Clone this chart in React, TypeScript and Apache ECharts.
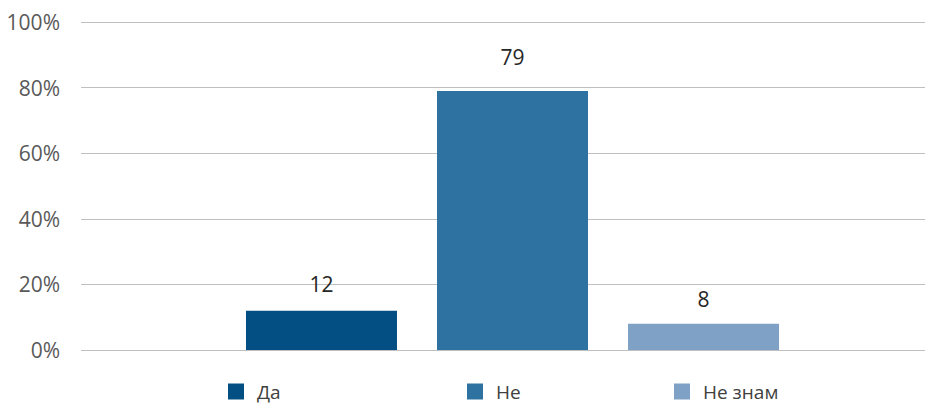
import React, { useEffect, useRef } from "react";
import * as echarts from "echarts";

const seriesNames = ["Да", "Не", "Не знам"];
const seriesValues = [12, 79, 8];
const seriesColors = ["#034e82", "#2e72a1", "#7fa1c5"];
const labelDistances = [16, 23, 14];
const legendLefts = [228, 467, 674];
const yTicks = [0, 20, 40, 60, 80, 100];

export default function App() {
  const ref = useRef<HTMLDivElement>(null);
  useEffect(() => {
    document.body.style.margin = "0";
    if (!ref.current) return;
    const chart = echarts.init(ref.current, undefined, { renderer: "svg" });
    const font = "'Open Sans', sans-serif";
    chart.setOption({
      animation: false,
      grid: [
        { left: 81, right: 3, top: 22, bottom: 53 },
        { left: 100, right: 3, top: 22, bottom: 53 },
      ],
      xAxis: [
        { type: "category", gridIndex: 0, data: [""], show: false },
        { type: "category", gridIndex: 1, data: [""], show: false },
      ],
      yAxis: [
        {
          type: "value",
          gridIndex: 0,
          min: yTicks[0],
          max: yTicks[yTicks.length - 1],
          interval: 20,
          axisLine: { show: false },
          axisTick: { show: false },
          axisLabel: {
            formatter: "{value}%",
            color: "#595959",
            fontSize: 21,
            fontFamily: font,
            margin: 21,
          },
          splitLine: { lineStyle: { color: "#bfbfbf", width: 1 } },
        },
        {
          type: "value",
          gridIndex: 1,
          min: 0,
          max: 100,
          interval: 20,
          show: false,
          splitLine: { show: false },
        },
      ],
      legend: seriesNames.map((n, i) => ({
        data: [n],
        left: legendLefts[i],
        top: 382,
        padding: 0,
        itemWidth: 16,
        itemHeight: 16,
        icon: "rect",
        textStyle: {
          color: "#404040",
          fontSize: 19,
          lineHeight: 18,
          fontFamily: font,
          padding: [0, 0, 0, 8],
        },
      })),
      series: seriesNames.map((n, i) => ({
        name: n,
        type: "bar",
        xAxisIndex: 1,
        yAxisIndex: 1,
        data: [seriesValues[i]],
        barWidth: 151,
        barGap: "26.5%",
        itemStyle: { color: seriesColors[i] },
        label: {
          show: true,
          position: "top",
          distance: labelDistances[i],
          color: "#262626",
          fontSize: 21,
          fontFamily: font,
        },
      })),
    });
    return () => chart.dispose();
  }, []);
  return <div ref={ref} style={{ width: 928, height: 403 }} />;
}
